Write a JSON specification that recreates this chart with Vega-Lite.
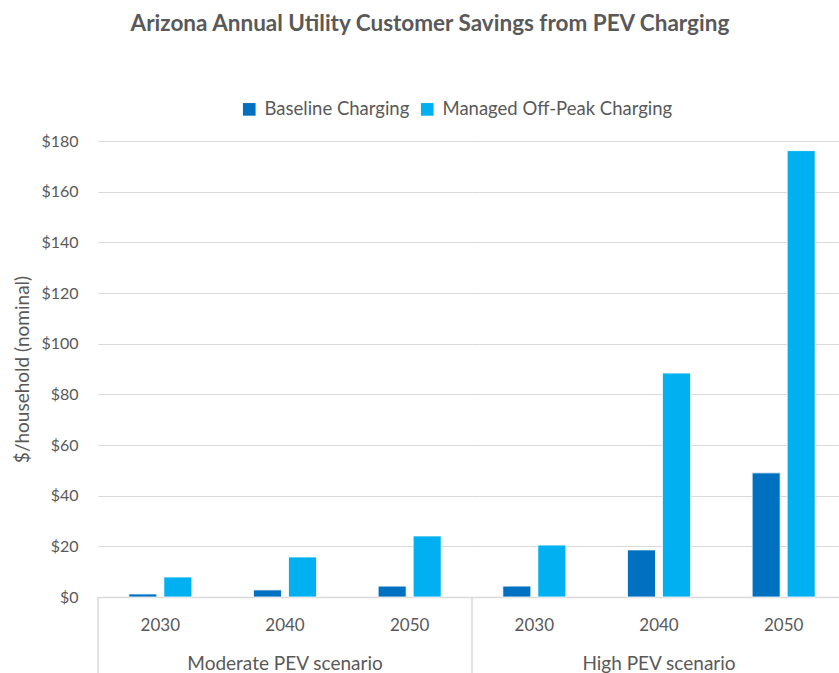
{
  "$schema": "https://vega.github.io/schema/vega-lite/v6.json",
  "padding": {"left": 13, "top": 12, "right": 0, "bottom": 0},
  "background": "white",
  "bounds": "flush",
  "title": {
    "text": "Arizona Annual Utility Customer Savings from PEV Charging",
    "font": "Lato",
    "fontSize": 22.5,
    "fontWeight": "bold",
    "color": "#595959",
    "anchor": "middle",
    "offset": 65
  },
  "datasets": {
    "bars": [
      {"scenario": "Moderate PEV scenario", "year": "2030", "series": "Baseline Charging", "value": 1.2},
      {"scenario": "Moderate PEV scenario", "year": "2030", "series": "Managed Off-Peak Charging", "value": 7.9},
      {"scenario": "Moderate PEV scenario", "year": "2040", "series": "Baseline Charging", "value": 2.8},
      {"scenario": "Moderate PEV scenario", "year": "2040", "series": "Managed Off-Peak Charging", "value": 15.8},
      {"scenario": "Moderate PEV scenario", "year": "2050", "series": "Baseline Charging", "value": 4.3},
      {"scenario": "Moderate PEV scenario", "year": "2050", "series": "Managed Off-Peak Charging", "value": 24.1},
      {"scenario": "High PEV scenario", "year": "2030", "series": "Baseline Charging", "value": 4.3},
      {"scenario": "High PEV scenario", "year": "2030", "series": "Managed Off-Peak Charging", "value": 20.5},
      {"scenario": "High PEV scenario", "year": "2040", "series": "Baseline Charging", "value": 18.6},
      {"scenario": "High PEV scenario", "year": "2040", "series": "Managed Off-Peak Charging", "value": 88.4},
      {"scenario": "High PEV scenario", "year": "2050", "series": "Baseline Charging", "value": 49.0},
      {"scenario": "High PEV scenario", "year": "2050", "series": "Managed Off-Peak Charging", "value": 176.2}
    ],
    "separators": [
      {"year": "2030", "top": 0, "bottom": -30}
    ]
  },
  "data": {"name": "bars"},
  "facet": {
    "column": {
      "field": "scenario",
      "type": "nominal",
      "sort": ["Moderate PEV scenario", "High PEV scenario"],
      "title": null,
      "header": {
        "labelOrient": "bottom",
        "labelFont": "Lato",
        "labelFontSize": 19,
        "labelColor": "#595959",
        "labelPadding": 22
      }
    }
  },
  "spacing": 0,
  "resolve": {"scale": {"x": "shared"}},
  "spec": {
    "width": 374,
    "height": 456,
    "layer": [
      {
        "mark": {"type": "bar", "stroke": "white", "strokeWidth": 0.8},
        "encoding": {
          "x": {
            "field": "year",
            "type": "nominal",
            "scale": {"paddingInner": 0, "paddingOuter": 0},
            "axis": {
              "title": null,
              "labelAngle": 0,
              "labelFont": "Lato",
              "labelFontSize": 17,
              "labelColor": "#595959",
              "labelPadding": 20,
              "ticks": false,
              "domainColor": "#D9D9D9",
              "domainWidth": 1.5
            }
          },
          "xOffset": {
            "field": "series",
            "type": "nominal",
            "scale": {"paddingInner": 0.2, "paddingOuter": 0.88}
          },
          "y": {
            "field": "value",
            "type": "quantitative",
            "scale": {"domain": [0, 180], "nice": false},
            "axis": {
              "title": "$/household (nominal)",
              "titleFont": "Lato",
              "titleFontSize": 19,
              "titleFontWeight": "normal",
              "titleColor": "#595959",
              "titlePadding": 8,
              "values": [0, 20, 40, 60, 80, 100, 120, 140, 160, 180],
              "format": "$.0f",
              "labelFont": "Lato",
              "labelFontSize": 16,
              "labelColor": "#595959",
              "labelPadding": 20,
              "ticks": false,
              "domain": false,
              "grid": true,
              "gridColor": "#D9D9D9",
              "gridWidth": 1.2
            }
          },
          "color": {
            "field": "series",
            "type": "nominal",
            "scale": {
              "domain": ["Baseline Charging", "Managed Off-Peak Charging"],
              "range": ["#0070C0", "#00B0F0"]
            },
            "legend": {
              "title": null,
              "orient": "none",
              "legendX": 142,
              "legendY": -41,
              "direction": "horizontal",
              "symbolType": "square",
              "symbolSize": 160,
              "symbolStrokeWidth": 0,
              "labelFont": "Lato",
              "labelFontSize": 18.5,
              "labelColor": "#595959",
              "labelLimit": 400,
              "columnPadding": 8,
              "labelOffset": 6
            }
          }
        }
      },
      {
        "data": {"name": "separators"},
        "mark": {"type": "rule", "color": "#D9D9D9", "strokeWidth": 1.5},
        "encoding": {
          "x": {"field": "year", "type": "nominal", "bandPosition": 0},
          "y": {"field": "top", "type": "quantitative"},
          "y2": {"field": "bottom"}
        }
      }
    ]
  },
  "config": {
    "view": {"stroke": null},
    "font": "Lato"
  }
}
